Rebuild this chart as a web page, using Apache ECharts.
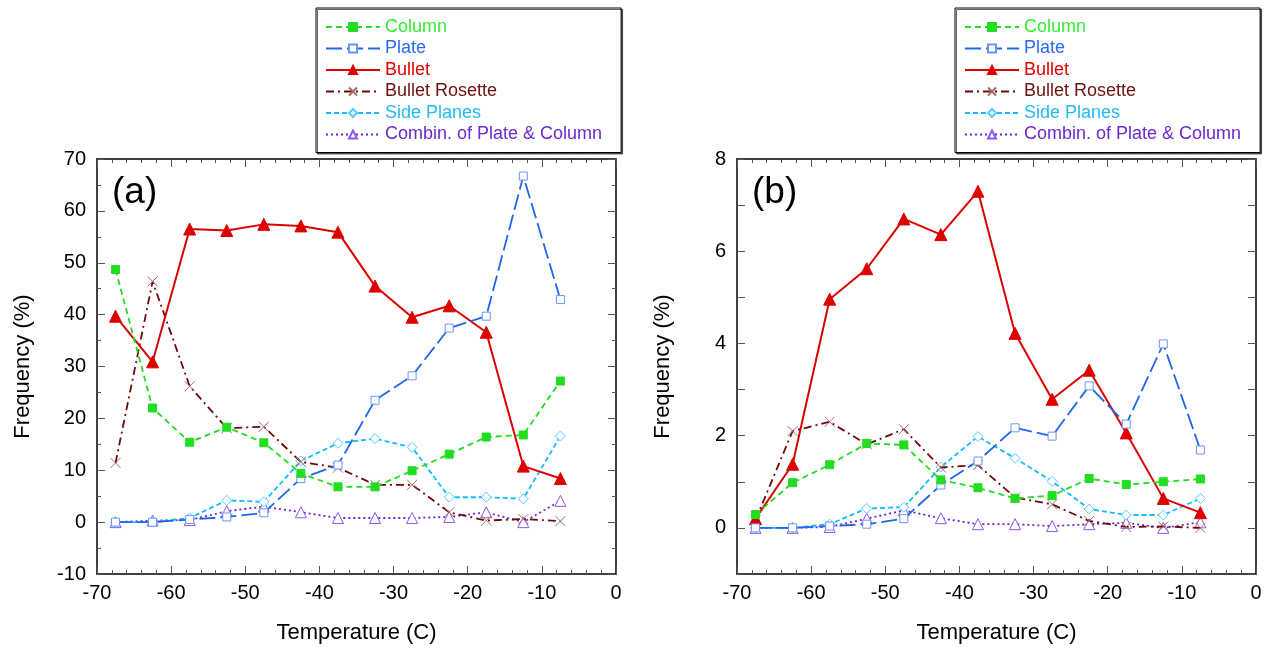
<!DOCTYPE html>
<html><head><meta charset="utf-8">
<script src="https://cdn.jsdelivr.net/npm/echarts@6/dist/echarts.min.js"></script>
<style>html,body{margin:0;padding:0;background:#fff}#c{width:1274px;height:650px}</style>
</head><body><div id="c"></div>
<script>
const temps = [-67.5,-62.5,-57.5,-52.5,-47.5,-42.5,-37.5,-32.5,-27.5,-22.5,-17.5,-12.5,-7.5];
const seriesNames = ['Column','Plate','Bullet','Bullet Rosette','Side Planes','Combin. of Plate & Column'];
// panel (a)
const columnA  = [48.7, 22.0, 15.4, 18.3, 15.3, 9.4, 6.8, 6.8, 9.9, 13.1, 16.4, 16.8, 27.2];
const plateA   = [0, 0, 0.5, 1.0, 1.8, 8.4, 11.0, 23.5, 28.2, 37.4, 39.7, 66.7, 42.9];
const bulletA  = [39.7, 30.9, 56.5, 56.2, 57.4, 57.1, 55.9, 45.5, 39.5, 41.7, 36.6, 10.8, 8.4];
const rosetteA = [11.4, 46.4, 26.2, 18.1, 18.4, 11.6, 10.5, 7.2, 7.2, 1.9, 0.3, 0.6, 0.2];
const sideA    = [0, 0, 0.8, 4.2, 3.9, 11.8, 15.2, 16.1, 14.4, 4.8, 4.8, 4.5, 16.6];
const combinA  = [0, 0.3, 0.4, 2.1, 3.0, 1.9, 0.8, 0.8, 0.8, 1.0, 1.9, 0, 4.1];
// panel (b)
const columnB  = [0.29, 0.98, 1.37, 1.83, 1.80, 1.04, 0.87, 0.64, 0.70, 1.07, 0.94, 1.0, 1.06];
const plateB   = [0, 0, 0.04, 0.08, 0.2, 0.93, 1.45, 2.17, 1.99, 3.08, 2.25, 3.99, 1.69];
const bulletB  = [0.2, 1.38, 4.96, 5.62, 6.70, 6.36, 7.30, 4.22, 2.79, 3.42, 2.06, 0.64, 0.33];
const rosetteB = [0.17, 2.1, 2.30, 1.81, 2.14, 1.31, 1.36, 0.66, 0.51, 0.15, 0.02, 0.03, 0];
const sideB    = [0, 0, 0.08, 0.42, 0.45, 1.32, 1.98, 1.51, 1.01, 0.41, 0.28, 0.28, 0.64];
const combinB  = [0, 0, 0.02, 0.2, 0.38, 0.21, 0.08, 0.08, 0.04, 0.08, 0.11, 0, 0.12];

const F = 'Liberation Sans, Arial, sans-serif';
const styles = [
  {line:'#22dd22', dash:[6,4], symbol:'rect', size:8, fill:'#22dd22', border:'#22dd22', text:'#33ee33', w:1.8},
  {line:'#1e66ee', dash:[16,5], symbol:'rect', size:8, fill:'#fff', border:'#6b94ff', text:'#2a6bf0', w:1.8},
  {line:'#dd0000', dash:'solid', symbol:'triangle', size:12, fill:'#dd0000', border:'#dd0000', text:'#e00000', w:2},
  {line:'#6b0a0a', dash:[8,4,2,4], symbol:'path://M0,0L10,10M10,0L0,10', size:10, fill:'rgba(0,0,0,0)', border:'#a86a6a', text:'#6e1010', w:1.8},
  {line:'#11bbff', dash:[5,3], symbol:'diamond', size:10, fill:'#fff', border:'#55ccff', text:'#22bbf0', w:1.8},
  {line:'#6622dd', dash:[2,3], symbol:'triangle', size:11, fill:'#fff', border:'#8a5aee', text:'#6a2ad0', w:1.8}
];
const panelA = [columnA, plateA, bulletA, rosetteA, sideA, combinA];
const panelB = [columnB, plateB, bulletB, rosetteB, sideB, combinB];

function mkSeries(vals, idx) {
  return vals.map((arr, i) => {
    const s = styles[i];
    return {
      type:'line', name: seriesNames[i], xAxisIndex: idx*2, yAxisIndex: idx*2,
      data: temps.map((t, k) => [t, arr[k]]),
      symbol: s.symbol, symbolSize: s.size, showAllSymbol: true,
      lineStyle: {color: s.line, width: s.w, type: s.dash},
      itemStyle: {color: s.fill, borderColor: s.border, borderWidth: 1},
      z: 2 + (5 - i), animation: false
    };
  });
}

const TICK = '#555';
const axisLineStyle = {show:true, onZero:false, lineStyle:{color:'#000', width:1.5}};
function xAxes(gi) {
  const base = {type:'value', gridIndex: gi, min:-70, max:0, interval:10,
    axisLine: axisLineStyle, splitLine:{show:false},
    axisTick:{show:true, inside:true, length:8, lineStyle:{color:TICK, width:1}},
    minorTick:{show:true, splitNumber:5, length:4, lineStyle:{color:TICK, width:1}}};
  return [
    Object.assign({}, base, {position:'bottom',
      name:'Temperature (C)', nameLocation:'middle', nameGap:48,
      nameTextStyle:{fontFamily:F, fontSize:22, color:'#000'},
      axisLabel:{fontFamily:F, fontSize:20, color:'#000', margin:9}}),
    Object.assign({}, base, {position:'top', axisLabel:{show:false}})
  ];
}
function yAxes(gi, min, max, interval, minorSplit, labelFn) {
  const base = {type:'value', gridIndex: gi, min:min, max:max, interval:interval,
    axisLine: axisLineStyle, splitLine:{show:false},
    axisTick:{show:true, inside:true, length:8, lineStyle:{color:TICK, width:1}},
    minorTick:{show: minorSplit>0, splitNumber: minorSplit||1, length:4, lineStyle:{color:TICK, width:1}}};
  return [
    Object.assign({}, base, {position:'left',
      name:'Frequency (%)', nameLocation:'middle', nameGap:63,
      nameTextStyle:{fontFamily:F, fontSize:22, color:'#000'},
      axisLabel:{fontFamily:F, fontSize:20, color:'#000', margin:11, formatter: labelFn}}),
    Object.assign({}, base, {position:'right', axisLabel:{show:false}})
  ];
}
function legend(left) {
  return {
    left:left, top:8, orient:'vertical', itemWidth:54, itemHeight:10, itemGap:3.5,
    padding:[10, 19, 9, 9], backgroundColor:'#fff', borderColor:'#000', borderWidth:1,
    shadowColor:'rgba(0,0,0,0.6)', shadowOffsetX:1.5, shadowOffsetY:1.5, shadowBlur:0,
    textStyle:{fontFamily:F, fontSize:18, lineHeight:18},
    data: seriesNames.map((n, i) => ({name:n, textStyle:{color: styles[i].text}})),
    selectedMode:false
  };
}

const chart = echarts.init(document.getElementById('c'), null, {renderer:'canvas'});
chart.setOption({
  animation:false,
  backgroundColor:'#fff',
  grid:[
    {left:97, right:658, top:159, bottom:76},
    {left:737, right:18, top:159, bottom:76}
  ],
  xAxis: xAxes(0).concat(xAxes(1)),
  yAxis: yAxes(0, -10, 70, 10, 2, v => String(v)).concat(
         yAxes(1, -1, 8, 1, 0, v => (Math.round(v) % 2 === 0 ? String(v) : ''))),
  legend:[legend(316), legend(955)],
  graphic:[
    {type:'text', left:112, top:174, style:{text:'(a)', font:'37px ' + F, fill:'#000'}},
    {type:'text', left:752, top:174, style:{text:'(b)', font:'37px ' + F, fill:'#000'}}
  ],
  series: mkSeries(panelA, 0).concat(mkSeries(panelB, 1))
});
</script></body></html>
